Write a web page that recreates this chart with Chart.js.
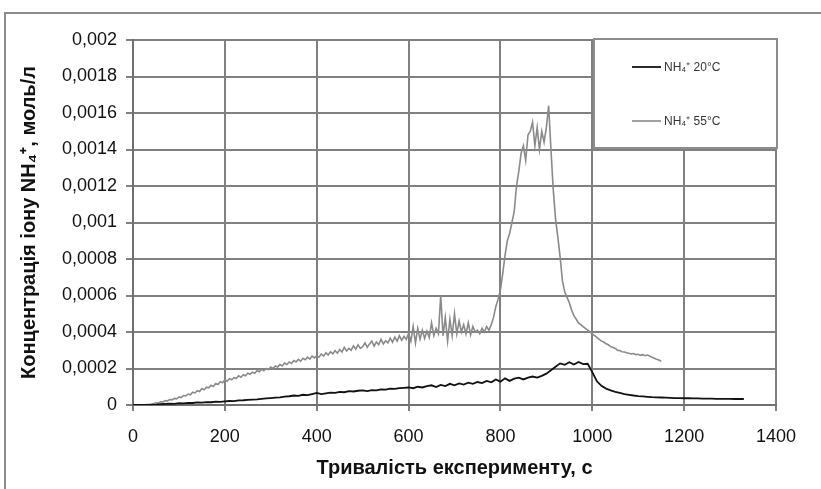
<!DOCTYPE html>
<html>
<head>
<meta charset="utf-8">
<script src="https://cdn.jsdelivr.net/npm/chart.js@4.4.1/dist/chart.umd.min.js"></script>
<style>
  html, body { margin: 0; padding: 0; background: #fff; }
  #wrap { width: 821px; height: 489px; }
</style>
</head>
<body>
<div id="wrap"><canvas id="c" width="821" height="489"></canvas></div>
<script>
// ---- data ----
const seriesLabels = ['NH₄⁺ 20°C', 'NH₄⁺ 55°C'];
const xTitle = 'Тривалість експерименту, с';
const yTitle = 'Концентрація іону NH₄⁺, моль/л';
const xTickLabels = ['0', '200', '400', '600', '800', '1000', '1200', '1400'];
const xTickValues = [0, 200, 400, 600, 800, 1000, 1200, 1400];
const yTickLabels = ['0', '0,0002', '0,0004', '0,0006', '0,0008', '0,001', '0,0012', '0,0014', '0,0016', '0,0018', '0,002'];

// NH4+ 55 °C, one value every 5 s from 0 s to 1150 s
const step55 = 5;
const conc55 = [
  0, 0, 0, 0, 0, 0.000001, 0.000002, 0.000003, 0.000005, 0.000008,
  0.000012, 0.000010, 0.000018, 0.000016, 0.000024, 0.000022, 0.000030, 0.000028, 0.000036, 0.000034,
  0.000044, 0.000040, 0.000052, 0.000050, 0.000060, 0.000056, 0.000070, 0.000066, 0.000078, 0.000074,
  0.000090, 0.000084, 0.000098, 0.000094, 0.000108, 0.000102, 0.000118, 0.000112, 0.000128, 0.000122,
  0.000138, 0.000130, 0.000144, 0.000138, 0.000150, 0.000146, 0.000160, 0.000152, 0.000166, 0.000160,
  0.000174, 0.000168, 0.000180, 0.000174, 0.000188, 0.000182, 0.000196, 0.000188, 0.000200, 0.000194,
  0.000208, 0.000200, 0.000214, 0.000208, 0.000222, 0.000214, 0.000230, 0.000222, 0.000236, 0.000228,
  0.000244, 0.000236, 0.000250, 0.000240, 0.000256, 0.000248, 0.000262, 0.000252, 0.000268, 0.000258,
  0.000270, 0.000262, 0.000280, 0.000268, 0.000286, 0.000274, 0.000292, 0.000280, 0.000298, 0.000284,
  0.000304, 0.000290, 0.000316, 0.000296, 0.000310, 0.000300, 0.000324, 0.000306, 0.000330, 0.000310,
  0.000320, 0.000340, 0.000316, 0.000334, 0.000350, 0.000322, 0.000346, 0.000330, 0.000360, 0.000334,
  0.000352, 0.000340, 0.000366, 0.000344, 0.000372, 0.000350, 0.000380, 0.000354, 0.000376, 0.000360,
  0.000392, 0.000350, 0.000430, 0.000340, 0.000420, 0.000360, 0.000410, 0.000365, 0.000405, 0.000370,
  0.000450, 0.000380, 0.000420, 0.000390, 0.000600, 0.000380, 0.000480, 0.000350, 0.000470, 0.000380,
  0.000500, 0.000390, 0.000460, 0.000400, 0.000440, 0.000390, 0.000450, 0.000385, 0.000430, 0.000400,
  0.000410, 0.000390, 0.000420, 0.000400, 0.000430, 0.000410, 0.000440, 0.000480, 0.000540, 0.000580,
  0.000630, 0.000720, 0.000820, 0.000900, 0.000940, 0.001000, 0.001060, 0.001200, 0.001280, 0.001380,
  0.001420, 0.001340, 0.001480, 0.001500, 0.001550, 0.001420, 0.001520, 0.001400, 0.001500, 0.001440,
  0.001520, 0.001640, 0.001400, 0.001180, 0.001020, 0.000920, 0.000810, 0.000680, 0.000620, 0.000590,
  0.000560, 0.000520, 0.000490, 0.000470, 0.000450, 0.000440, 0.000430, 0.000420, 0.000410, 0.000400,
  0.000390, 0.000380, 0.000370, 0.000360, 0.000350, 0.000345, 0.000335, 0.000330, 0.000320, 0.000315,
  0.000310, 0.000300, 0.000298, 0.000292, 0.000290, 0.000286, 0.000284, 0.000280, 0.000282, 0.000276,
  0.000278, 0.000272, 0.000276, 0.000270, 0.000274, 0.000268, 0.000262, 0.000256, 0.000250, 0.000246,
  0.000240
];

// NH4+ 20 °C, one value every 10 s from 0 s to 1330 s
const step20 = 10;
const conc20 = [
  0, 0, 0, 0, 0.000001, 0.000002, 0.000004, 0.000006, 0.000008, 0.000006,
  0.000010, 0.000009, 0.000012, 0.000011, 0.000014, 0.000013, 0.000016, 0.000015, 0.000018, 0.000017,
  0.000020, 0.000022, 0.000021, 0.000025, 0.000026, 0.000028, 0.000030, 0.000031, 0.000034, 0.000036,
  0.000038, 0.000040, 0.000042, 0.000046, 0.000048, 0.000052, 0.000050, 0.000056, 0.000054, 0.000060,
  0.000066, 0.000060, 0.000064, 0.000068, 0.000066, 0.000072, 0.000070, 0.000076, 0.000074, 0.000078,
  0.000080, 0.000076, 0.000082, 0.000080, 0.000086, 0.000084, 0.000090, 0.000088, 0.000092, 0.000094,
  0.000096, 0.000092, 0.000100, 0.000096, 0.000104, 0.000108, 0.000098, 0.000110, 0.000104, 0.000116,
  0.000108, 0.000118, 0.000112, 0.000122, 0.000116, 0.000126, 0.000120, 0.000132, 0.000124, 0.000140,
  0.000128, 0.000146, 0.000132, 0.000144, 0.000150, 0.000140, 0.000150, 0.000156, 0.000150, 0.000160,
  0.000172, 0.000190, 0.000210, 0.000228, 0.000220, 0.000234, 0.000222, 0.000236, 0.000224, 0.000226,
  0.000180, 0.000130, 0.000105, 0.000090, 0.000080, 0.000072, 0.000066, 0.000060, 0.000056, 0.000052,
  0.000049, 0.000047, 0.000045, 0.000043, 0.000042, 0.000041, 0.000040, 0.000039, 0.000038, 0.000038,
  0.000037, 0.000037, 0.000036, 0.000036, 0.000035, 0.000035, 0.000035, 0.000034, 0.000034, 0.000034,
  0.000034, 0.000033, 0.000033, 0.000033
];

const time55 = conc55.map((_, i) => i * step55);
const time20 = conc20.map((_, i) => i * step20);

const FONT = '"Liberation Sans", Arial, sans-serif';
Chart.defaults.font.family = FONT;
Chart.defaults.color = '#111';

const frameAndLegend = {
  id: 'frameAndLegend',
  beforeDraw(chart) {
    const ctx = chart.ctx;
    ctx.save();
    ctx.fillStyle = '#fff';
    ctx.fillRect(0, 0, chart.width, chart.height);
    ctx.strokeStyle = '#8c8c8c';
    ctx.lineWidth = 2;
    ctx.strokeRect(5, 13, chart.width + 20, chart.height + 20);
    ctx.restore();
  },
  afterDatasetsDraw(chart) {
    const ctx = chart.ctx;
    const a = chart.chartArea;
    const x0 = 594, y0 = a.top - 1, x1 = a.right + 1, y1 = 148;
    ctx.save();
    ctx.fillStyle = '#fff';
    ctx.fillRect(x0, y0, x1 - x0, y1 - y0);
    ctx.strokeStyle = '#8c8c8c';
    ctx.lineWidth = 2;
    ctx.strokeRect(x0, y0, x1 - x0, y1 - y0);
    const rows = [67, 121];
    chart.data.datasets.forEach((ds, i) => {
      const y = rows[i];
      ctx.strokeStyle = ds.borderColor;
      ctx.lineWidth = ds.borderWidth;
      ctx.beginPath();
      ctx.moveTo(632, y);
      ctx.lineTo(661, y);
      ctx.stroke();
      ctx.fillStyle = '#333';
      ctx.font = '12px ' + FONT;
      ctx.textBaseline = 'middle';
      ctx.textAlign = 'left';
      ctx.fillText(ds.label, 664, y + 1);
    });
    ctx.restore();
  }
};

new Chart(document.getElementById('c'), {
  type: 'line',
  data: {
    datasets: [
      {
        label: seriesLabels[0],
        data: time20.map((t, i) => ({ x: t, y: conc20[i] })),
        borderColor: '#111111',
        borderWidth: 1.8,
        pointRadius: 0,
        tension: 0
      },
      {
        label: seriesLabels[1],
        data: time55.map((t, i) => ({ x: t, y: conc55[i] })),
        borderColor: '#8a8a8a',
        borderWidth: 1.6,
        pointRadius: 0,
        tension: 0
      }
    ]
  },
  options: {
    responsive: false,
    animation: false,
    devicePixelRatio: 1,
    layout: { padding: { left: 13, right: 45, top: 40, bottom: 5 } },
    plugins: {
      legend: { display: false },
      tooltip: { enabled: false }
    },
    scales: {
      x: {
        type: 'linear',
        min: 0,
        max: 1400,
        afterBuildTicks(scale) { scale.ticks = xTickValues.map(v => ({ value: v })); },
        afterFit(scale) { scale.height = 79; },
        ticks: {
          font: { size: 18 },
          color: '#111',
          padding: 15,
          maxRotation: 0,
          callback: (v, i) => xTickLabels[i]
        },
        grid: { color: '#808080', lineWidth: 2, tickLength: 6, tickColor: '#808080' },
        border: { color: '#707070', width: 2 },
        title: { display: true, text: xTitle, font: { size: 20, weight: 'bold' }, color: '#111', padding: { top: 4, bottom: 4 } }
      },
      y: {
        min: 0,
        max: 0.002,
        afterBuildTicks(scale) { scale.ticks = yTickLabels.map((_, i) => ({ value: i * 0.0002 })); },
        afterFit(scale) { scale.width = 120; },
        ticks: {
          font: { size: 18 },
          color: '#111',
          padding: 9,
          callback: (v, i) => yTickLabels[i]
        },
        grid: { color: '#808080', lineWidth: 2, tickLength: 7, tickColor: '#808080' },
        border: { color: '#707070', width: 2 },
        title: { display: true, text: yTitle, font: { size: 20, weight: 'bold' }, color: '#111', padding: { top: 4, bottom: 4 } }
      }
    }
  },
  plugins: [frameAndLegend]
});
</script>
</body>
</html>
